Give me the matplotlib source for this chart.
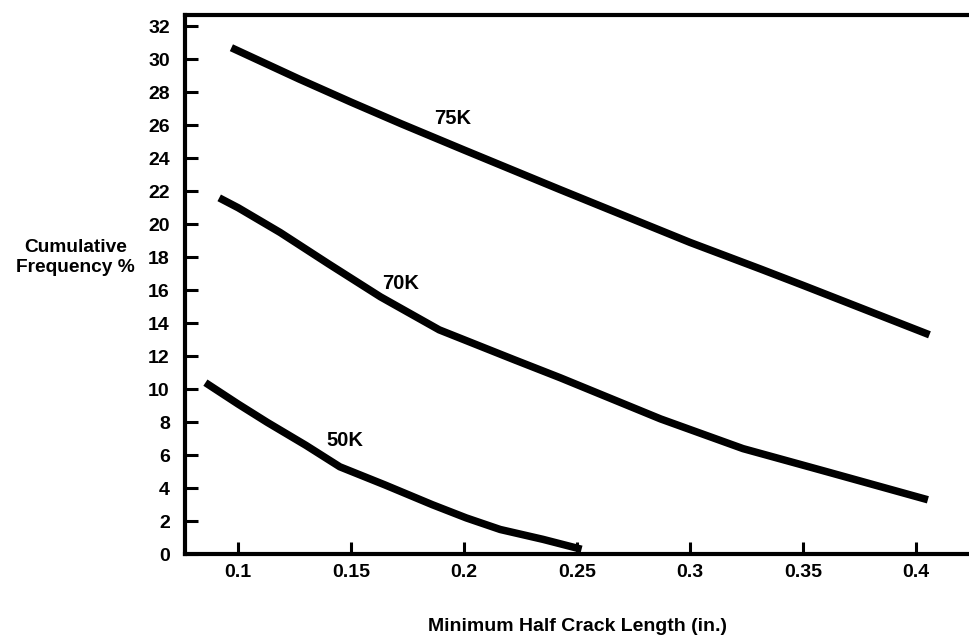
import matplotlib
matplotlib.use("Agg")
import matplotlib.pyplot as plt

plt.rcParams['font.family'] = ['Liberation Sans', 'DejaVu Sans']
plt.rcParams['font.weight'] = 'bold'

# curves
x_75k = [0.097, 0.127, 0.15, 0.172, 0.2, 0.2425, 0.3, 0.331, 0.35, 0.406]
y_75k = [30.7, 28.8, 27.4, 26.1, 24.5, 22.1, 18.9, 17.3, 16.3, 13.3]

x_70k = [0.0916, 0.1, 0.1186, 0.14, 0.163, 0.189, 0.222, 0.2425, 0.287, 0.3235, 0.3606, 0.4053]
y_70k = [21.6, 21.0, 19.5, 17.6, 15.6, 13.6, 11.8, 10.7, 8.2, 6.4, 5.0, 3.3]

x_50k = [0.0855, 0.1, 0.1128, 0.13, 0.145, 0.165, 0.186, 0.201, 0.216, 0.235, 0.252]
y_50k = [10.4, 9.1, 8.0, 6.6, 5.3, 4.2, 3.0, 2.2, 1.5, 0.9, 0.3]

curve_labels = ["75K", "70K", "50K"]
label_pos = [(0.195, 26.4), (0.172, 16.4), (0.147, 6.9)]

x_ticks = [0.1, 0.15, 0.2, 0.25, 0.3, 0.35, 0.4]
x_tick_labels = ["0.1", "0.15", "0.2", "0.25", "0.3", "0.35", "0.4"]
y_ticks = list(range(0, 33, 2))

fig = plt.figure(figsize=(9.69, 6.40), dpi=100)
ax = fig.add_axes([0.191, 0.134, 0.809, 0.843])

for xs, ys in [(x_75k, y_75k), (x_70k, y_70k), (x_50k, y_50k)]:
    ax.plot(xs, ys, color="black", lw=5.4, solid_capstyle="butt", solid_joinstyle="round")

for txt, (tx, ty) in zip(curve_labels, label_pos):
    ax.text(tx, ty, txt, fontsize=14.5, fontweight="bold", ha="center", va="center")

ax.set_xlim(0.0765, 0.4235)
ax.set_ylim(0, 32.7)
ax.set_xticks(x_ticks)
ax.set_xticklabels(x_tick_labels)
ax.set_yticks(y_ticks)

ax.tick_params(axis="both", direction="in", length=9, width=2.2, labelsize=14)
ax.tick_params(axis="x", pad=7)
ax.tick_params(axis="y", pad=11)
for lab in ax.get_xticklabels() + ax.get_yticklabels():
    lab.set_fontweight("bold")

ax.spines["right"].set_visible(False)
for s in ["left", "bottom", "top"]:
    ax.spines[s].set_linewidth(3)

ax.set_ylabel("Cumulative\nFrequency %", rotation=0, fontsize=13.8, fontweight="bold",
              ha="center", va="center", linespacing=1.2)
ax.yaxis.set_label_coords(-0.14, 0.55)
ax.set_xlabel("Minimum Half Crack Length (in.)", fontsize=14, fontweight="bold")
ax.xaxis.set_label_coords(0.501, -0.118)

fig.savefig("out.png", dpi=100)
